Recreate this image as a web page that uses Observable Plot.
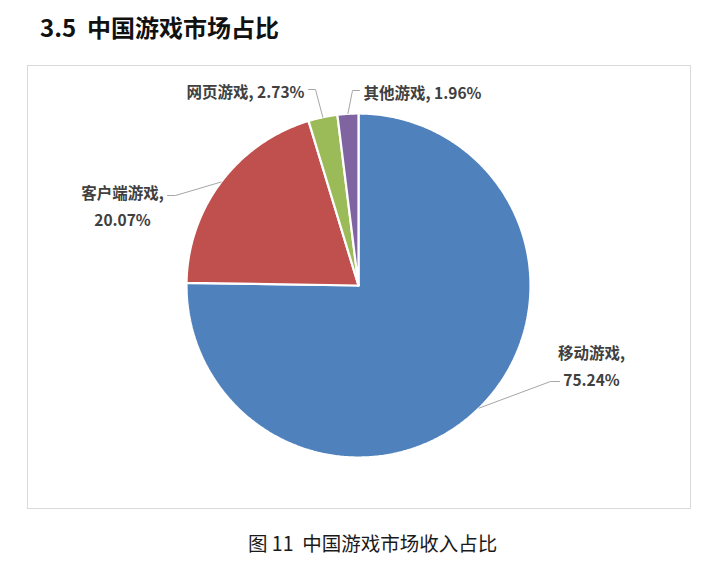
<!DOCTYPE html>
<html>
<head>
<meta charset="utf-8">
<script src="https://cdn.jsdelivr.net/npm/d3@7"></script>
<script src="https://cdn.jsdelivr.net/npm/@observablehq/plot@0.6"></script>
<style>
  html, body { margin: 0; padding: 0; background: #fff; }
  body { width: 718px; height: 569px; position: relative; overflow: hidden;
         font-family: "Noto Sans CJK SC", "Noto Sans", sans-serif; }
  #title { position: absolute; left: 40px; top: 11px; font-size: 24px; line-height: 32px;
           font-weight: bold; color: #111; white-space: pre; }
  #chart { position: absolute; left: 27px; top: 65px; width: 662px; height: 442px;
           border: 1px solid #d9d9d9; }
  #chart svg { display: block; }
  #caption { position: absolute; left: 248px; top: 530px; font-size: 19.5px; line-height: 26px;
             color: #1a1a1a; white-space: pre; }
</style>
</head>
<body>
<div id="title">3.5  中国游戏市场占比</div>
<div id="chart"></div>
<div id="caption">图 11  中国游戏市场收入占比</div>
<script>
// ---- data ----
const categories = ["移动游戏", "客户端游戏", "网页游戏", "其他游戏"];
const shares = [75.24, 20.07, 2.73, 1.96];
const sliceColors = ["#4F81BD", "#C0504D", "#9BBB59", "#8064A2"];

// ---- layout (pixels) ----
const W = 662, H = 442, CX = 330, CY = 219, R = 172;
// label placement in pixel coordinates of the chart area (elbow, end, text anchor)
const labelLayout = {
  "移动游戏":   {elbow: [522, 315], end: [531, 315], text: [563, 297], anchor: "middle", multi: true},
  "客户端游戏": {elbow: [147, 129], end: [139, 129], text: [94, 137], anchor: "middle", multi: true},
  "网页游戏":   {elbow: [287, 23], end: [280, 23], text: [276, 23], anchor: "end", multi: false},
  "其他游戏":   {elbow: [324, 24], end: [331, 24], text: [335, 24], anchor: "start", multi: false}
};

const toX = px => (px - CX) / R;
const toY = py => (CY - py) / R;

const arcs = d3.pie().sort(null).value(d => d.value)(
  categories.map((name, i) => ({name, value: shares[i]}))
);

// slice polygons in unit-circle coordinates
const slicePts = [];
for (const a of arcs) {
  const name = a.data.name;
  slicePts.push({name, x: 0, y: 0});
  const n = Math.max(2, Math.ceil((a.endAngle - a.startAngle) / (Math.PI / 360)));
  for (let k = 0; k <= n; k++) {
    const t = a.startAngle + (a.endAngle - a.startAngle) * k / n;
    slicePts.push({name, x: Math.sin(t), y: Math.cos(t)});
  }
  slicePts.push({name, x: 0, y: 0});
}

// leader lines and labels
const leaderPts = [];
const labels = [];
for (const a of arcs) {
  const name = a.data.name;
  const L = labelLayout[name];
  const mid = (a.startAngle + a.endAngle) / 2;
  leaderPts.push({name, x: Math.sin(mid), y: Math.cos(mid)});
  leaderPts.push({name, x: toX(L.elbow[0]), y: toY(L.elbow[1])});
  leaderPts.push({name, x: toX(L.end[0]), y: toY(L.end[1])});
  const pct = a.data.value.toFixed(2) + "%";
  labels.push({
    name,
    text: L.multi ? `${name},\n${pct}` : `${name}, ${pct}`,
    x: toX(L.text[0]), y: toY(L.text[1]), anchor: L.anchor
  });
}

const textMark = anchor => Plot.text(labels.filter(d => d.anchor === anchor), {
  x: "x", y: "y", text: "text", textAnchor: anchor, lineAnchor: "middle",
  lineHeight: 1.75, fontSize: 15.5, fontWeight: "bold", fill: "#404040",
  fontFamily: '"Noto Sans CJK SC", sans-serif'
});

const chart = Plot.plot({
  width: W, height: H,
  margin: 0,
  x: {domain: [toX(0), toX(W)], axis: null},
  y: {domain: [toY(H), toY(0)], axis: null},
  color: {domain: categories, range: sliceColors},
  style: {background: "white", overflow: "visible"},
  marks: [
    Plot.line(slicePts, {x: "x", y: "y", z: "name", fill: "name", stroke: "white",
      strokeWidth: 2.2, strokeLinejoin: "miter", curve: "linear"}),
    Plot.line(leaderPts, {x: "x", y: "y", z: "name", stroke: "#a6a6a6", strokeWidth: 1}),
    textMark("middle"),
    textMark("end"),
    textMark("start")
  ]
});
document.getElementById("chart").appendChild(chart);
</script>
</body>
</html>
